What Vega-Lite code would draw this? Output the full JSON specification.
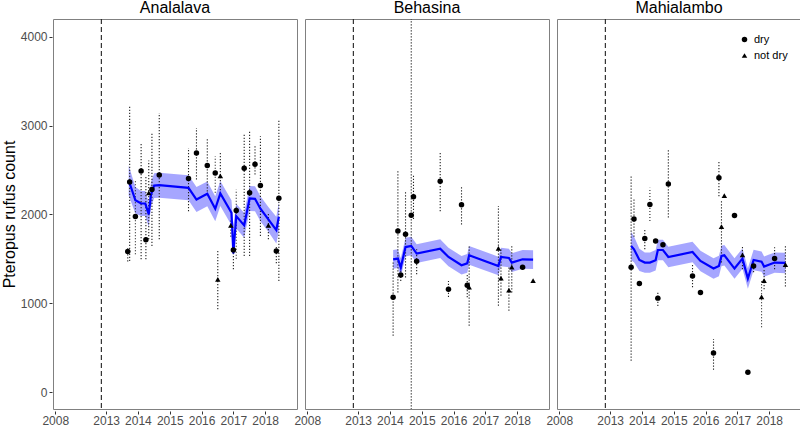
{
  "$schema": "https://vega.github.io/schema/vega-lite/v6.json",
  "padding": {"left": 1, "top": 0, "right": 0, "bottom": 0},
  "background": "white",
  "config": {
    "font": "Liberation Sans",
    "view": {"stroke": "#808080", "strokeWidth": 1},
    "axis": {"grid": false, "domain": false, "tickColor": "#333333", "tickSize": 3, "labelColor": "#4d4d4d", "labelFontSize": 12, "labelFont": "Liberation Sans", "labelPadding": 1},
    "legend": {"labelFont": "Liberation Sans", "labelFontSize": 11, "labelColor": "black", "symbolFillColor": "black", "symbolStrokeColor": "black", "symbolSize": 30, "rowPadding": 3}
  },
  "data": {"values": [
    {"site": "Analalava", "kind": "ref", "year": 2012.85},
    {"site": "Behasina", "kind": "ref", "year": 2012.85},
    {"site": "Mahialambo", "kind": "ref", "year": 2012.85},

    {"site": "Analalava", "kind": "obs", "year": 2013.68, "count": 1582, "type": "dry", "lo": 1470, "hi": 1640},
    {"site": "Analalava", "kind": "obs", "year": 2013.74, "count": 2365, "type": "dry", "lo": 1476, "hi": 3215},
    {"site": "Analalava", "kind": "obs", "year": 2013.92, "count": 1978, "type": "dry", "lo": 1551, "hi": 2374},
    {"site": "Analalava", "kind": "obs", "year": 2014.10, "count": 2490, "type": "dry", "lo": 1495, "hi": 2804},
    {"site": "Analalava", "kind": "obs", "year": 2014.25, "count": 1716, "type": "dry", "lo": 1495, "hi": 2430},
    {"site": "Analalava", "kind": "obs", "year": 2014.34, "count": 2243, "type": "not dry", "lo": 1720, "hi": 2606},
    {"site": "Analalava", "kind": "obs", "year": 2014.44, "count": 2280, "type": "dry", "lo": 1645, "hi": 2917},
    {"site": "Analalava", "kind": "obs", "year": 2014.67, "count": 2445, "type": "dry", "lo": 1720, "hi": 3141},
    {"site": "Analalava", "kind": "obs", "year": 2015.59, "count": 2404, "type": "dry", "lo": 2037, "hi": 2748},
    {"site": "Analalava", "kind": "obs", "year": 2015.84, "count": 2692, "type": "dry", "lo": 2393, "hi": 2972},
    {"site": "Analalava", "kind": "obs", "year": 2016.18, "count": 2550, "type": "dry", "lo": 2224, "hi": 2860},
    {"site": "Analalava", "kind": "obs", "year": 2016.43, "count": 2467, "type": "dry", "lo": 2243, "hi": 2654},
    {"site": "Analalava", "kind": "obs", "year": 2016.59, "count": 2434, "type": "not dry", "lo": 2206, "hi": 2692},
    {"site": "Analalava", "kind": "obs", "year": 2016.51, "count": 1268, "type": "not dry", "lo": 934, "hi": 1589},
    {"site": "Analalava", "kind": "obs", "year": 2016.92, "count": 1877, "type": "not dry", "lo": 1750, "hi": 1950},
    {"site": "Analalava", "kind": "obs", "year": 2017.00, "count": 1600, "type": "dry", "lo": 1383, "hi": 1700},
    {"site": "Analalava", "kind": "obs", "year": 2017.09, "count": 2045, "type": "dry", "lo": 1500, "hi": 2280},
    {"site": "Analalava", "kind": "obs", "year": 2017.34, "count": 2520, "type": "dry", "lo": 1532, "hi": 2897},
    {"site": "Analalava", "kind": "obs", "year": 2017.51, "count": 2243, "type": "dry", "lo": 1532, "hi": 2935},
    {"site": "Analalava", "kind": "obs", "year": 2017.68, "count": 2565, "type": "dry", "lo": 2449, "hi": 2785},
    {"site": "Analalava", "kind": "obs", "year": 2017.85, "count": 2325, "type": "dry", "lo": 1757, "hi": 2879},
    {"site": "Analalava", "kind": "obs", "year": 2018.10, "count": 1877, "type": "not dry", "lo": 1720, "hi": 2022},
    {"site": "Analalava", "kind": "obs", "year": 2018.35, "count": 1589, "type": "dry", "lo": 1450, "hi": 1650},
    {"site": "Analalava", "kind": "obs", "year": 2018.43, "count": 2183, "type": "dry", "lo": 1252, "hi": 3066},

    {"site": "Behasina", "kind": "obs", "year": 2014.10, "count": 1069, "type": "dry", "lo": 635, "hi": 1476},
    {"site": "Behasina", "kind": "obs", "year": 2014.25, "count": 1813, "type": "dry", "lo": 1122, "hi": 2486},
    {"site": "Behasina", "kind": "obs", "year": 2014.34, "count": 1319, "type": "dry", "lo": 1250, "hi": 1400},
    {"site": "Behasina", "kind": "obs", "year": 2014.49, "count": 1776, "type": "dry", "lo": 1290, "hi": 2262},
    {"site": "Behasina", "kind": "obs", "year": 2014.67, "count": 1992, "type": "dry", "lo": -500, "hi": 5000},
    {"site": "Behasina", "kind": "obs", "year": 2014.74, "count": 2198, "type": "dry", "lo": 1950, "hi": 2450},
    {"site": "Behasina", "kind": "obs", "year": 2014.84, "count": 1473, "type": "dry", "lo": 1327, "hi": 1608},
    {"site": "Behasina", "kind": "obs", "year": 2015.58, "count": 2374, "type": "dry", "lo": 2037, "hi": 2692},
    {"site": "Behasina", "kind": "obs", "year": 2015.84, "count": 1159, "type": "dry", "lo": 1070, "hi": 1250},
    {"site": "Behasina", "kind": "obs", "year": 2016.25, "count": 2109, "type": "dry", "lo": 1888, "hi": 2318},
    {"site": "Behasina", "kind": "obs", "year": 2016.43, "count": 1204, "type": "dry", "lo": 1069, "hi": 1327},
    {"site": "Behasina", "kind": "obs", "year": 2016.49, "count": 1181, "type": "not dry", "lo": 748, "hi": 1645},
    {"site": "Behasina", "kind": "obs", "year": 2017.41, "count": 1619, "type": "not dry", "lo": 972, "hi": 2094},
    {"site": "Behasina", "kind": "obs", "year": 2017.49, "count": 1282, "type": "not dry", "lo": 1084, "hi": 1608},
    {"site": "Behasina", "kind": "obs", "year": 2017.74, "count": 1148, "type": "not dry", "lo": 916, "hi": 1406},
    {"site": "Behasina", "kind": "obs", "year": 2017.83, "count": 1406, "type": "not dry", "lo": 1122, "hi": 1645},
    {"site": "Behasina", "kind": "obs", "year": 2018.17, "count": 1406, "type": "dry"},
    {"site": "Behasina", "kind": "obs", "year": 2018.50, "count": 1256, "type": "not dry"},

    {"site": "Mahialambo", "kind": "obs", "year": 2013.66, "count": 1406, "type": "dry", "lo": 354, "hi": 2430},
    {"site": "Mahialambo", "kind": "obs", "year": 2013.75, "count": 1948, "type": "dry", "lo": 1750, "hi": 2170},
    {"site": "Mahialambo", "kind": "obs", "year": 2013.92, "count": 1222, "type": "dry"},
    {"site": "Mahialambo", "kind": "obs", "year": 2014.09, "count": 1728, "type": "dry", "lo": 1608, "hi": 1832},
    {"site": "Mahialambo", "kind": "obs", "year": 2014.25, "count": 2112, "type": "dry", "lo": 1925, "hi": 2300},
    {"site": "Mahialambo", "kind": "obs", "year": 2014.43, "count": 1701, "type": "dry"},
    {"site": "Mahialambo", "kind": "obs", "year": 2014.50, "count": 1058, "type": "dry", "lo": 970, "hi": 1125},
    {"site": "Mahialambo", "kind": "obs", "year": 2014.66, "count": 1660, "type": "dry"},
    {"site": "Mahialambo", "kind": "obs", "year": 2014.83, "count": 2344, "type": "dry", "lo": 1966, "hi": 2729},
    {"site": "Mahialambo", "kind": "obs", "year": 2015.59, "count": 1308, "type": "dry", "lo": 1180, "hi": 1440},
    {"site": "Mahialambo", "kind": "obs", "year": 2015.84, "count": 1122, "type": "dry"},
    {"site": "Mahialambo", "kind": "obs", "year": 2016.25, "count": 441, "type": "dry", "lo": 253, "hi": 598},
    {"site": "Mahialambo", "kind": "obs", "year": 2016.42, "count": 2412, "type": "dry", "lo": 2205, "hi": 2598},
    {"site": "Mahialambo", "kind": "obs", "year": 2016.50, "count": 1862, "type": "not dry", "lo": 1460, "hi": 2168},
    {"site": "Mahialambo", "kind": "obs", "year": 2016.59, "count": 2213, "type": "not dry"},
    {"site": "Mahialambo", "kind": "obs", "year": 2016.91, "count": 1989, "type": "dry"},
    {"site": "Mahialambo", "kind": "obs", "year": 2017.16, "count": 1544, "type": "not dry", "lo": 1383, "hi": 1645},
    {"site": "Mahialambo", "kind": "obs", "year": 2017.33, "count": 224, "type": "dry"},
    {"site": "Mahialambo", "kind": "obs", "year": 2017.51, "count": 1420, "type": "dry", "lo": 1350, "hi": 1480},
    {"site": "Mahialambo", "kind": "obs", "year": 2017.76, "count": 1073, "type": "not dry", "lo": 729, "hi": 1271},
    {"site": "Mahialambo", "kind": "obs", "year": 2017.84, "count": 1256, "type": "not dry", "lo": 1159, "hi": 1383},
    {"site": "Mahialambo", "kind": "obs", "year": 2018.17, "count": 1503, "type": "dry", "lo": 1383, "hi": 1630},
    {"site": "Mahialambo", "kind": "obs", "year": 2018.51, "count": 1436, "type": "not dry", "lo": 1189, "hi": 1663},

    {"site": "Analalava", "kind": "fit", "year": 2013.71, "fit": 2382, "flo": 2212, "fhi": 2552},
    {"site": "Analalava", "kind": "fit", "year": 2013.92, "fit": 2160, "flo": 2010, "fhi": 2310},
    {"site": "Analalava", "kind": "fit", "year": 2014.10, "fit": 2123, "flo": 1983, "fhi": 2263},
    {"site": "Analalava", "kind": "fit", "year": 2014.23, "fit": 2123, "flo": 1983, "fhi": 2263},
    {"site": "Analalava", "kind": "fit", "year": 2014.34, "fit": 2000, "flo": 1860, "fhi": 2140},
    {"site": "Analalava", "kind": "fit", "year": 2014.41, "fit": 2224, "flo": 2084, "fhi": 2364},
    {"site": "Analalava", "kind": "fit", "year": 2014.51, "fit": 2325, "flo": 2185, "fhi": 2465},
    {"site": "Analalava", "kind": "fit", "year": 2014.67, "fit": 2329, "flo": 2189, "fhi": 2469},
    {"site": "Analalava", "kind": "fit", "year": 2015.59, "fit": 2300, "flo": 2160, "fhi": 2440},
    {"site": "Analalava", "kind": "fit", "year": 2015.84, "fit": 2168, "flo": 2028, "fhi": 2308},
    {"site": "Analalava", "kind": "fit", "year": 2016.18, "fit": 2232, "flo": 2092, "fhi": 2372},
    {"site": "Analalava", "kind": "fit", "year": 2016.43, "fit": 2064, "flo": 1924, "fhi": 2204},
    {"site": "Analalava", "kind": "fit", "year": 2016.59, "fit": 2236, "flo": 2096, "fhi": 2376},
    {"site": "Analalava", "kind": "fit", "year": 2016.94, "fit": 2019, "flo": 1879, "fhi": 2159},
    {"site": "Analalava", "kind": "fit", "year": 2017.00, "fit": 1560, "flo": 1640, "fhi": 1880},
    {"site": "Analalava", "kind": "fit", "year": 2017.09, "fit": 1981, "flo": 1841, "fhi": 2121},
    {"site": "Analalava", "kind": "fit", "year": 2017.34, "fit": 1877, "flo": 1737, "fhi": 2017},
    {"site": "Analalava", "kind": "fit", "year": 2017.51, "fit": 2180, "flo": 2040, "fhi": 2320},
    {"site": "Analalava", "kind": "fit", "year": 2017.68, "fit": 2176, "flo": 2036, "fhi": 2316},
    {"site": "Analalava", "kind": "fit", "year": 2017.85, "fit": 2064, "flo": 1924, "fhi": 2204},
    {"site": "Analalava", "kind": "fit", "year": 2018.10, "fit": 1944, "flo": 1804, "fhi": 2084},
    {"site": "Analalava", "kind": "fit", "year": 2018.35, "fit": 1824, "flo": 1674, "fhi": 1974},
    {"site": "Analalava", "kind": "fit", "year": 2018.43, "fit": 1974, "flo": 1814, "fhi": 2134},

    {"site": "Behasina", "kind": "fit", "year": 2014.10, "fit": 1495, "flo": 1390, "fhi": 1600},
    {"site": "Behasina", "kind": "fit", "year": 2014.25, "fit": 1503, "flo": 1398, "fhi": 1608},
    {"site": "Behasina", "kind": "fit", "year": 2014.34, "fit": 1402, "flo": 1297, "fhi": 1507},
    {"site": "Behasina", "kind": "fit", "year": 2014.49, "fit": 1633, "flo": 1528, "fhi": 1738},
    {"site": "Behasina", "kind": "fit", "year": 2014.67, "fit": 1645, "flo": 1540, "fhi": 1750},
    {"site": "Behasina", "kind": "fit", "year": 2014.84, "fit": 1559, "flo": 1454, "fhi": 1664},
    {"site": "Behasina", "kind": "fit", "year": 2015.58, "fit": 1615, "flo": 1510, "fhi": 1720},
    {"site": "Behasina", "kind": "fit", "year": 2015.84, "fit": 1521, "flo": 1416, "fhi": 1626},
    {"site": "Behasina", "kind": "fit", "year": 2016.25, "fit": 1428, "flo": 1323, "fhi": 1533},
    {"site": "Behasina", "kind": "fit", "year": 2016.43, "fit": 1450, "flo": 1345, "fhi": 1555},
    {"site": "Behasina", "kind": "fit", "year": 2016.49, "fit": 1540, "flo": 1435, "fhi": 1645},
    {"site": "Behasina", "kind": "fit", "year": 2017.41, "fit": 1420, "flo": 1315, "fhi": 1525},
    {"site": "Behasina", "kind": "fit", "year": 2017.49, "fit": 1521, "flo": 1416, "fhi": 1626},
    {"site": "Behasina", "kind": "fit", "year": 2017.74, "fit": 1510, "flo": 1405, "fhi": 1615},
    {"site": "Behasina", "kind": "fit", "year": 2017.83, "fit": 1458, "flo": 1353, "fhi": 1563},
    {"site": "Behasina", "kind": "fit", "year": 2018.17, "fit": 1495, "flo": 1390, "fhi": 1600},
    {"site": "Behasina", "kind": "fit", "year": 2018.50, "fit": 1492, "flo": 1387, "fhi": 1597},

    {"site": "Mahialambo", "kind": "fit", "year": 2013.66, "fit": 1645, "flo": 1485, "fhi": 1805},
    {"site": "Mahialambo", "kind": "fit", "year": 2013.75, "fit": 1608, "flo": 1463, "fhi": 1753},
    {"site": "Mahialambo", "kind": "fit", "year": 2013.92, "fit": 1488, "flo": 1363, "fhi": 1613},
    {"site": "Mahialambo", "kind": "fit", "year": 2014.09, "fit": 1458, "flo": 1343, "fhi": 1573},
    {"site": "Mahialambo", "kind": "fit", "year": 2014.25, "fit": 1458, "flo": 1343, "fhi": 1573},
    {"site": "Mahialambo", "kind": "fit", "year": 2014.43, "fit": 1484, "flo": 1369, "fhi": 1599},
    {"site": "Mahialambo", "kind": "fit", "year": 2014.50, "fit": 1600, "flo": 1485, "fhi": 1715},
    {"site": "Mahialambo", "kind": "fit", "year": 2014.66, "fit": 1600, "flo": 1485, "fhi": 1715},
    {"site": "Mahialambo", "kind": "fit", "year": 2014.83, "fit": 1521, "flo": 1406, "fhi": 1636},
    {"site": "Mahialambo", "kind": "fit", "year": 2015.59, "fit": 1577, "flo": 1462, "fhi": 1692},
    {"site": "Mahialambo", "kind": "fit", "year": 2015.84, "fit": 1476, "flo": 1361, "fhi": 1591},
    {"site": "Mahialambo", "kind": "fit", "year": 2016.25, "fit": 1391, "flo": 1276, "fhi": 1506},
    {"site": "Mahialambo", "kind": "fit", "year": 2016.42, "fit": 1420, "flo": 1305, "fhi": 1535},
    {"site": "Mahialambo", "kind": "fit", "year": 2016.50, "fit": 1532, "flo": 1417, "fhi": 1647},
    {"site": "Mahialambo", "kind": "fit", "year": 2016.59, "fit": 1540, "flo": 1425, "fhi": 1655},
    {"site": "Mahialambo", "kind": "fit", "year": 2016.91, "fit": 1391, "flo": 1276, "fhi": 1506},
    {"site": "Mahialambo", "kind": "fit", "year": 2017.16, "fit": 1503, "flo": 1388, "fhi": 1618},
    {"site": "Mahialambo", "kind": "fit", "year": 2017.33, "fit": 1279, "flo": 1164, "fhi": 1394},
    {"site": "Mahialambo", "kind": "fit", "year": 2017.51, "fit": 1488, "flo": 1373, "fhi": 1603},
    {"site": "Mahialambo", "kind": "fit", "year": 2017.76, "fit": 1469, "flo": 1354, "fhi": 1584},
    {"site": "Mahialambo", "kind": "fit", "year": 2017.84, "fit": 1413, "flo": 1298, "fhi": 1528},
    {"site": "Mahialambo", "kind": "fit", "year": 2018.17, "fit": 1458, "flo": 1343, "fhi": 1573},
    {"site": "Mahialambo", "kind": "fit", "year": 2018.51, "fit": 1454, "flo": 1339, "fhi": 1569}
  ]},
  "facet": {"column": {"field": "site", "type": "nominal", "sort": ["Analalava", "Behasina", "Mahialambo"],
    "header": {"title": null, "labelFontSize": 16, "labelColor": "black", "labelPadding": 1, "labelFont": "Liberation Sans"}}},
  "spacing": 6,
  "spec": {
    "width": 244,
    "height": 390,
    "layer": [
      {
        "transform": [{"filter": "datum.kind == 'fit'"}],
        "mark": {"type": "area", "color": "#0000ff", "opacity": 0.35},
        "encoding": {
          "x": {"field": "year", "type": "quantitative", "scale": {"domain": [2011.33, 2019.0], "nice": false, "zero": false},
            "axis": {"values": [2011.4, 2013, 2014, 2015, 2016, 2017, 2018], "labelExpr": "datum.value < 2012 ? '2008' : toString(datum.value)", "title": null, "labelFlush": false, "labelOverlap": false, "labelPadding": 1}},
          "y": {"field": "flo", "type": "quantitative", "scale": {"domain": [-190, 4200], "nice": false, "zero": false},
            "axis": {"values": [0, 1000, 2000, 3000, 4000], "format": "d", "labelPadding": 2, "title": "Pteropus rufus count", "titleFontSize": 16, "titleFontWeight": "normal", "titleColor": "black", "titlePadding": 3}},
          "y2": {"field": "fhi"}
        }
      },
      {
        "transform": [{"filter": "datum.kind == 'ref'"}],
        "mark": {"type": "rule", "color": "#222222", "strokeDash": [5, 3], "strokeWidth": 1.1},
        "encoding": {"x": {"field": "year", "type": "quantitative"}}
      },
      {
        "transform": [{"filter": "datum.kind == 'obs' && isValid(datum.lo)"}],
        "mark": {"type": "rule", "color": "#222222", "strokeDash": [1.2, 1.8], "strokeWidth": 1.1, "clip": true},
        "encoding": {
          "x": {"field": "year", "type": "quantitative"},
          "y": {"field": "lo", "type": "quantitative", "title": "Pteropus rufus count"},
          "y2": {"field": "hi"}
        }
      },
      {
        "transform": [{"filter": "datum.kind == 'fit'"}],
        "mark": {"type": "line", "color": "#0000ff", "strokeWidth": 2.2},
        "encoding": {
          "x": {"field": "year", "type": "quantitative"},
          "y": {"field": "fit", "type": "quantitative", "title": "Pteropus rufus count"}
        }
      },
      {
        "transform": [{"filter": "datum.kind == 'obs'"}],
        "mark": {"type": "point", "filled": true, "color": "black", "opacity": 1, "size": 30},
        "encoding": {
          "x": {"field": "year", "type": "quantitative"},
          "y": {"field": "count", "type": "quantitative", "title": "Pteropus rufus count"},
          "shape": {"field": "type", "type": "nominal", "scale": {"domain": ["dry", "not dry"], "range": ["circle", "triangle-up"]},
            "legend": {"title": null, "orient": "none", "legendX": 686, "legendY": 15}}
        }
      }
    ]
  }
}
